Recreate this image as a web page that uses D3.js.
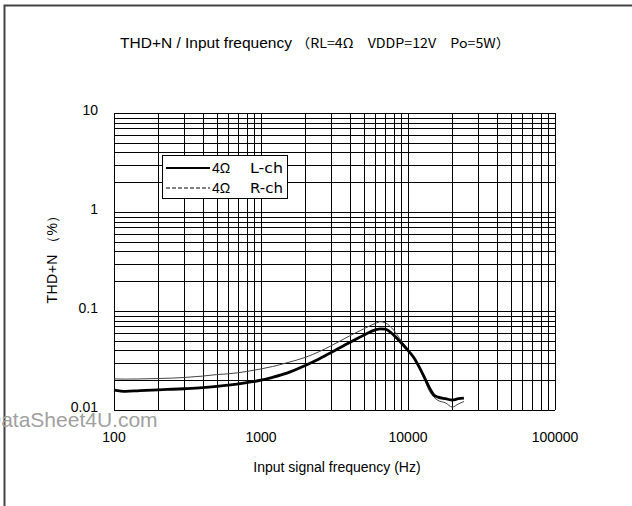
<!DOCTYPE html>
<html lang="en">
<head>
  <meta charset="UTF-8">
  <title>THD+N / Input frequency</title>
  <script src="https://d3js.org/d3.v7.min.js"></script>
  <style>
    body { margin: 0; background: #fff; }
    text { font-family: "Liberation Sans", Arial, sans-serif; fill: #000; }
  </style>
</head>
<body>
  <div class="canvas"></div>
  <script>
    // frequency (Hz) points shared by both channels
    const freqs = [100, 120, 150, 200, 250, 300, 400, 500, 600, 800, 1000, 1200, 1500, 2000, 2500, 3000,
      4000, 5000, 6000, 6500, 7000, 8000, 9000, 10000, 11000, 12000, 13000, 14000, 15000, 16000,
      18000, 20000, 22000, 24000];
    // THD+N (%)
    const lch = [0.0159, 0.0154, 0.0157, 0.0160, 0.0162, 0.0164, 0.0168, 0.0173, 0.0178, 0.0189, 0.0200,
      0.0214, 0.0236, 0.0282, 0.0330, 0.0380, 0.0480, 0.0570, 0.0645, 0.0660, 0.0655, 0.0570, 0.0475,
      0.0400, 0.0335, 0.0266, 0.0210, 0.0167, 0.0142, 0.0135, 0.0130, 0.0126, 0.0130, 0.0132];
    const rch = [0.0206, 0.0205, 0.0206, 0.0208, 0.0210, 0.0213, 0.0220, 0.0228, 0.0232, 0.0245, 0.0260,
      0.0275, 0.0300, 0.0340, 0.0390, 0.0445, 0.0560, 0.0660, 0.0750, 0.0780, 0.0760, 0.0640, 0.0500,
      0.0410, 0.0330, 0.0260, 0.0200, 0.0155, 0.0135, 0.0125, 0.0118, 0.0107, 0.0115, 0.0122];

    const xTicks = [100, 1000, 10000, 100000];
    const yTicks = [0.01, 0.1, 1, 10];
    const seriesLoad = ['4Ω', '4Ω'];
    const seriesCh = ['L-ch', 'R-ch'];

    const W = 632, H = 506;
    const svg = d3.select('.canvas')
      .append('svg')
      .attr('width', W)
      .attr('height', H);

    // outer frame (top + left only visible)
    svg.append('path')
      .attr('d', `M4.5,${H} V5.5 H${W}`)
      .attr('fill', 'none')
      .attr('stroke', '#444')
      .attr('stroke-width', 2);

    const x = d3.scaleLog().domain([100, 100000]).range([114, 555]);
    const y = d3.scaleLog().domain([0.01, 10]).range([410, 113]);

    // minor grid values 1..9 per decade
    const xGrid = [];
    for (let d = 100; d < 100000; d *= 10) for (let k = 1; k < 10; k++) xGrid.push(d * k);
    xGrid.push(100000);
    const yGrid = [];
    for (let d = 0.01; d < 9.99; d *= 10) for (let k = 1; k < 10; k++) yGrid.push(d * k);
    yGrid.push(10);

    const g = svg.append('g');
    g.selectAll('.vg').data(xGrid).enter().append('line')
      .attr('x1', d => Math.round(x(d)) + 0.5).attr('x2', d => Math.round(x(d)) + 0.5)
      .attr('y1', y(10)).attr('y2', y(0.01))
      .attr('stroke', '#000').attr('stroke-width', 1);
    g.selectAll('.hg').data(yGrid).enter().append('line')
      .attr('y1', d => Math.round(y(d)) + 0.5).attr('y2', d => Math.round(y(d)) + 0.5)
      .attr('x1', x(100)).attr('x2', x(100000))
      .attr('stroke', '#000').attr('stroke-width', 1);

    // watermark (sits under the 0.01 label like in the scan)
    svg.append('text')
      .attr('x', -14).attr('y', 427)
      .style('font-size', '21px')
      .style('fill', '#a0a0a0')
      .text('DataSheet4U.com');

    // tick labels
    svg.selectAll('.xt').data(xTicks).enter().append('text')
      .attr('x', d => x(d)).attr('y', 442)
      .attr('text-anchor', 'middle')
      .style('font-size', '14px')
      .text(d => d);
    svg.selectAll('.yt').data(yTicks).enter().append('text')
      .attr('x', 98).attr('y', d => y(d) + 2)
      .attr('text-anchor', 'end')
      .style('font-size', '14px')
      .text(d => d);

    // curves
    const line = d3.line()
      .x(d => x(d[0]))
      .y(d => y(d[1]))
      .curve(d3.curveMonotoneX);
    svg.append('path')
      .datum(freqs.map((f, i) => [f, rch[i]]))
      .attr('d', line)
      .attr('fill', 'none')
      .attr('stroke', '#444')
      .attr('stroke-width', 1);
    svg.append('path')
      .datum(freqs.map((f, i) => [f, lch[i]]))
      .attr('d', line)
      .attr('fill', 'none')
      .attr('stroke', '#000')
      .attr('stroke-width', 2.8);

    // legend
    const lg = svg.append('g').attr('transform', 'translate(162,155)');
    lg.append('rect')
      .attr('x', 0.5).attr('y', 0.5).attr('width', 125).attr('height', 43)
      .attr('fill', '#fff').attr('stroke', '#000');
    lg.selectAll('.ll').data(seriesCh).enter().append('line')
      .attr('x1', 4).attr('x2', 48)
      .attr('y1', (d, i) => 13 + i * 20).attr('y2', (d, i) => 13 + i * 20)
      .attr('stroke', '#000')
      .attr('stroke-width', (d, i) => i === 0 ? 2.2 : 1)
      .attr('stroke-dasharray', (d, i) => i === 0 ? null : '4,2');
    lg.selectAll('.lo').data(seriesLoad).enter().append('text')
      .attr('x', 50).attr('y', (d, i) => 18 + i * 20)
      .style('font-size', '14px')
      .text(d => d);
    lg.selectAll('.lc').data(seriesCh).enter().append('text')
      .attr('x', 88).attr('y', (d, i) => 18 + i * 20)
      .style('font-size', '14px')
      .style('font-family', '"DejaVu Sans", sans-serif')
      .attr('textLength', 33)
      .attr('lengthAdjust', 'spacingAndGlyphs')
      .text(d => d);

    // titles
    svg.append('text')
      .attr('x', 120).attr('y', 48)
      .style('font-size', '14.5px')
      .attr('textLength', 172)
      .attr('lengthAdjust', 'spacingAndGlyphs')
      .text('THD+N / Input frequency');
    svg.append('text')
      .attr('x', 296).attr('y', 48)
      .style('font-size', '13px')
      .style('font-family', '"Noto Sans CJK JP", sans-serif')
      .attr('textLength', 214)
      .attr('lengthAdjust', 'spacingAndGlyphs')
      .text('（RL=4Ω　VDDP=12V　Po=5W）');

    svg.append('text')
      .attr('x', 337).attr('y', 472)
      .attr('text-anchor', 'middle')
      .style('font-size', '14px')
      .text('Input signal frequency (Hz)');

    svg.append('text')
      .attr('transform', 'translate(57,256) rotate(-90)')
      .attr('text-anchor', 'middle')
      .style('font-size', '14px')
      .attr('textLength', 95)
      .text('THD+N （%）');
  </script>
</body>
</html>
